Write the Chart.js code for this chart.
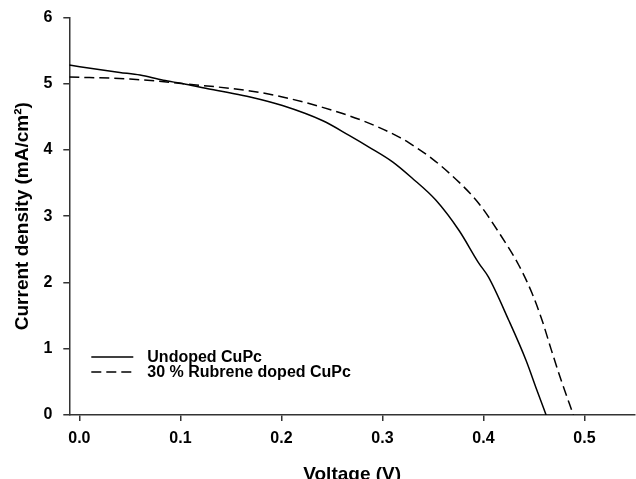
<!DOCTYPE html>
<html>
<head>
<meta charset="utf-8">
<script src="https://cdn.jsdelivr.net/npm/chart.js@4/dist/chart.umd.min.js"></script>
<style>
  html, body { margin: 0; padding: 0; background: #fff; overflow: hidden; }
  #wrap { width: 636px; height: 479px; overflow: hidden; }
</style>
</head>
<body>
<div id="wrap"><canvas id="jv" width="636" height="486"></canvas></div>
<script>
// J-V curves
const undopedV = [-0.01, 0.021, 0.04, 0.06, 0.083, 0.103, 0.125, 0.146, 0.169, 0.201, 0.241, 0.267, 0.287, 0.31, 0.329, 0.353, 0.376, 0.395, 0.405, 0.425, 0.442, 0.453, 0.462];
const undopedJ = [5.28, 5.21, 5.17, 5.13, 5.05, 5.0, 4.93, 4.87, 4.8, 4.67, 4.44, 4.22, 4.04, 3.82, 3.58, 3.24, 2.78, 2.3, 2.08, 1.43, 0.83, 0.37, 0.0];

const dopedV = [-0.01, 0.05, 0.103, 0.169, 0.201, 0.25, 0.284, 0.317, 0.326, 0.349, 0.376, 0.395, 0.415, 0.435, 0.448, 0.458, 0.467, 0.477, 0.489];
const dopedJ = [5.1, 5.07, 5.0, 4.89, 4.8, 4.6, 4.42, 4.19, 4.11, 3.87, 3.51, 3.2, 2.76, 2.26, 1.84, 1.43, 0.99, 0.52, 0.0];

const seriesLabels = ["Undoped CuPc", "30 % Rubrene doped CuPc"];
const xTicks = [0.0, 0.1, 0.2, 0.3, 0.4, 0.5];
const yTicks = [0, 1, 2, 3, 4, 5, 6];

const FONT = "'Liberation Sans', Arial, sans-serif";

const toPoints = (xs, ys) => xs.map((x, i) => ({ x: x, y: ys[i] }));

// legend sits inside the plot, bottom left
const insideLegend = {
  id: "insideLegend",
  afterDraw(chart) {
    const ctx = chart.ctx;
    const a = chart.chartArea;
    ctx.save();
    ctx.font = "bold 16px " + FONT;
    ctx.textBaseline = "middle";
    ctx.fillStyle = "#000";
    chart.data.datasets.forEach((ds, i) => {
      const y = a.bottom - 58 + i * 15;
      ctx.beginPath();
      ctx.setLineDash(ds.borderDash || []);
      ctx.lineWidth = ds.borderWidth;
      ctx.strokeStyle = ds.borderColor;
      ctx.moveTo(a.left + 22, y);
      ctx.lineTo(a.left + 64, y);
      ctx.stroke();
      ctx.setLineDash([]);
      ctx.fillText(ds.label, a.left + 78, y + 1);
    });
    ctx.restore();
  },
};

new Chart(document.getElementById("jv"), {
  type: "line",
  plugins: [insideLegend],
  data: {
    datasets: [
      {
        label: seriesLabels[0],
        data: toPoints(undopedV, undopedJ),
        borderColor: "#000",
        borderWidth: 1.5,
        pointRadius: 0,
        cubicInterpolationMode: "monotone",
        fill: false,
      },
      {
        label: seriesLabels[1],
        data: toPoints(dopedV, dopedJ),
        borderColor: "#000",
        borderWidth: 1.5,
        borderDash: [10, 5],
        pointRadius: 0,
        cubicInterpolationMode: "monotone",
        fill: false,
      },
    ],
  },
  options: {
    responsive: false,
    animation: false,
    layout: { padding: { top: 17, left: 11.6, right: 1, bottom: 0 } },
    plugins: {
      legend: { display: false },
      tooltip: { enabled: false },
    },
    scales: {
      x: {
        type: "linear",
        min: -0.01,
        max: 0.55,
        afterBuildTicks: (scale) => {
          scale.ticks = xTicks.map((v) => ({ value: v }));
        },
        ticks: {
          color: "#000",
          padding: 8,
          font: { family: FONT, size: 16, weight: "bold" },
          callback: (v) => v.toFixed(1),
        },
        grid: { drawOnChartArea: false, tickLength: 6, color: "#333", lineWidth: 1.5 },
        border: { color: "#333", width: 1.5 },
        title: {
          display: true,
          text: "Voltage (V)",
          color: "#000",
          padding: { top: 7, bottom: 0 },
          font: { family: FONT, size: 19, weight: "bold" },
        },
      },
      y: {
        min: 0,
        max: 6,
        afterBuildTicks: (scale) => {
          scale.ticks = yTicks.map((v) => ({ value: v }));
        },
        ticks: {
          color: "#000",
          padding: 11,
          font: { family: FONT, size: 16, weight: "bold", lineHeight: 0.8 },
        },
        grid: { drawOnChartArea: false, tickLength: 6, color: "#333", lineWidth: 1.5 },
        border: { color: "#333", width: 1.5 },
        title: {
          display: true,
          text: "Current density (mA/cm²)",
          color: "#000",
          padding: { top: 0, bottom: -2 },
          font: { family: FONT, size: 19, weight: "bold" },
        },
      },
    },
  },
});
</script>
</body>
</html>
